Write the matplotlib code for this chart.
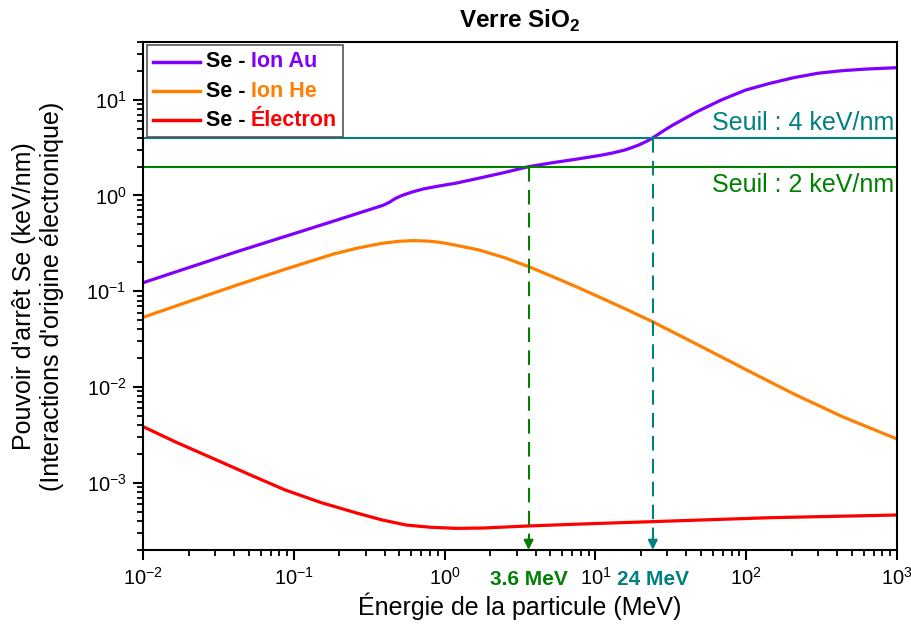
import matplotlib
matplotlib.use('Agg')
import matplotlib.pyplot as plt
from matplotlib.offsetbox import AnchoredOffsetbox, HPacker, VPacker, TextArea, DrawingArea
from matplotlib.lines import Line2D

plt.rcParams['font.family'] = ['Liberation Sans', 'DejaVu Sans']
plt.rcParams['mathtext.fontset'] = 'custom'
plt.rcParams['mathtext.rm'] = 'Liberation Sans'
plt.rcParams['mathtext.bf'] = 'Liberation Sans:bold'
plt.rcParams['axes.unicode_minus'] = False

# Energy (MeV) / stopping power Se (keV/nm)
au_energy = [0.01, 0.0418, 0.183, 0.39, 0.43, 0.47, 0.52, 0.6, 0.72, 0.9, 1.2, 1.7, 2.5, 3.6,
             5.2, 7.4, 10.7, 13, 15.6, 17.5, 19.4, 22, 24, 28.1, 32.6, 47.2, 68.2, 98.9, 143, 207,
             300, 434, 628, 1000]
au_se = [0.123, 0.259, 0.54, 0.79, 0.85, 0.93, 1.0, 1.08, 1.17, 1.25, 1.35, 1.52, 1.74, 2.0,
         2.2, 2.39, 2.62, 2.78, 2.98, 3.17, 3.37, 3.7, 4.0, 4.71, 5.44, 7.5, 9.93, 12.6, 14.8,
         17.0, 18.9, 20.1, 20.9, 21.6]

he_energy = [0.01, 0.0199, 0.0418, 0.0875, 0.183, 0.265, 0.384, 0.5, 0.622, 0.78, 0.933, 1.17,
             1.69, 2.5, 3.6, 5, 7.41, 10.7, 15.6, 24, 47.2, 98.9, 207, 434, 1000]
he_se = [0.0535, 0.0778, 0.116, 0.170, 0.245, 0.283, 0.317, 0.333, 0.338, 0.334, 0.324, 0.304,
         0.270, 0.224, 0.181, 0.146, 0.112, 0.0865, 0.066, 0.048, 0.0279, 0.0153, 0.00847,
         0.00491, 0.00287]

el_energy = [0.01, 0.0166, 0.0288, 0.0502, 0.0875, 0.152, 0.265, 0.385, 0.556, 0.805, 1.2, 1.8,
             3.6, 8, 24, 143, 1000]
el_se = [3.86e-3, 2.65e-3, 1.81e-3, 1.23e-3, 8.43e-4, 6.21e-4, 4.81e-4, 4.10e-4, 3.63e-4,
         3.44e-4, 3.35e-4, 3.38e-4, 3.55e-4, 3.72e-4, 3.94e-4, 4.33e-4, 4.62e-4]

series_names = ['Ion Au', 'Ion He', 'Électron']
series_colors = ['#8000ff', '#ff8000', '#ff0000']

thresholds = [4, 2]
threshold_energy = [24, 3.6]
threshold_colors = ['#008080', '#008000']
threshold_labels = ['Seuil : 4 keV/nm', 'Seuil : 2 keV/nm']
energy_labels = ['24 MeV', '3.6 MeV']

ymin, ymax = 2e-4, 40

fig = plt.figure(figsize=(9.12, 6.32), dpi=100)
ax = fig.add_axes([0.157, 0.130, 0.8266, 0.8035])

for E, S, c in zip([au_energy, he_energy, el_energy], [au_se, he_se, el_se], series_colors):
    ax.plot(E, S, color=c, lw=2.3, solid_joinstyle='round')

# threshold lines and the matching energies
for thr, e, c, elab in zip(thresholds, threshold_energy, threshold_colors, energy_labels):
    ax.axhline(thr, color=c, lw=1.5)
    ax.plot([e, e], [thr, ymin * 1.25], color=c, lw=1.5, dashes=(7, 4))
    ax.annotate('', xy=(e, ymin), xytext=(e, ymin * 1.3),
                arrowprops=dict(arrowstyle='-|>', color=c, lw=1.5, mutation_scale=14,
                                shrinkA=0, shrinkB=0))
    ax.text(e, -0.04, elab, color=c, fontsize=15, fontweight='bold', ha='center', va='top',
            transform=ax.get_xaxis_transform())

ax.text(0.996, 4.25, threshold_labels[0], color=threshold_colors[0], fontsize=18, ha='right', va='bottom',
        transform=ax.get_yaxis_transform())
ax.text(0.996, 1.72, threshold_labels[1], color=threshold_colors[1], fontsize=18, ha='right', va='top',
        transform=ax.get_yaxis_transform())

ax.set_xscale('log')
ax.set_yscale('log')
ax.set_xlim(1e-2, 1e3)
ax.set_ylim(ymin, ymax)

for s in ax.spines.values():
    s.set_linewidth(1.5)
ax.tick_params(which='major', direction='out', length=7, width=1.5, labelsize=14.5, pad=5,
               top=False, right=False)
ax.tick_params(which='minor', direction='out', length=4, width=1.3, top=False, right=False)

ax.set_xlabel('Énergie de la particule (MeV)', fontsize=18, labelpad=3)
ax.set_ylabel("Pouvoir d'arrêt Se (keV/nm)\n(Interactions d'origine électronique)", fontsize=18,
              labelpad=16)
ax.set_title(r'Verre SiO$_\mathbf{2}$', fontsize=17.5, fontweight='bold', pad=10)

# legend with two-colour labels
rows = []
for name, c in zip(series_names, series_colors):
    da = DrawingArea(34, 12, 0, 0)
    da.add_artist(Line2D([0, 34], [6, 6], color=c, lw=2.5))
    t1 = TextArea('Se -', textprops=dict(color='black', fontweight='bold', fontsize=15.5))
    t2 = TextArea(name, textprops=dict(color=c, fontweight='bold', fontsize=15.5))
    rows.append(HPacker(children=[da, t1, t2], align='center', pad=0, sep=4))
box = VPacker(children=rows, align='left', pad=0, sep=6)
leg = AnchoredOffsetbox(loc='upper left', child=box, pad=0.45, frameon=True, borderpad=0,
                        bbox_to_anchor=(0.005, 0.994), bbox_transform=ax.transAxes)
leg.patch.set_boxstyle('square,pad=0')
leg.patch.set_edgecolor('#555555')
leg.patch.set_linewidth(1.2)
ax.add_artist(leg)

fig.savefig('out.png', dpi=100)
